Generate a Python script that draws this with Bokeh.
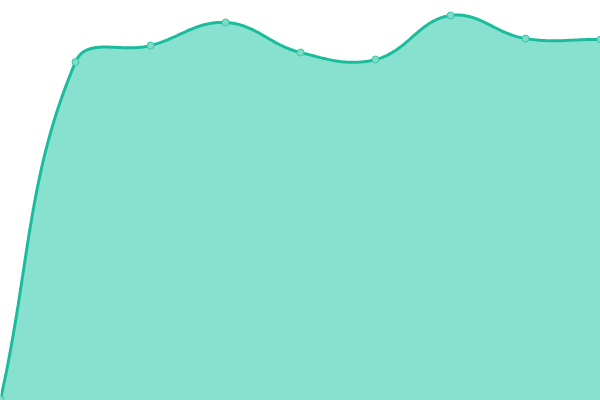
import numpy as np
from bokeh.plotting import figure
from bokeh.models import Range1d
from bokeh.embed import file_html
from bokeh.resources import INLINE

# data
labels = ["1", "2", "3", "4", "5", "6", "7", "8", "9"]
values = [1, 338.5, 355, 378, 348, 341, 385, 362, 361]

LINE = "#1abc9c"
FILL = "#88e0cf"
PT_FILL = "#7fdcc8"

W, H = 600, 400
x_start, x_end = 0, 8
y_start, y_end = 0, 400

p = figure(width=W, height=H, output_backend="svg", toolbar_location=None,
           x_range=Range1d(x_start, x_end), y_range=Range1d(y_start, y_end),
           min_border=0, border_fill_color="white", background_fill_color="white",
           outline_line_color=None)
p.axis.visible = False
p.grid.visible = False

xs = np.arange(len(values), dtype=float)
ys = np.array(values, dtype=float)

# Chart.js-style bezier smoothing (tension 0.4), computed in screen-proportional space
sx = W / (x_end - x_start)
sy = H / (y_end - y_start)
P = np.column_stack([xs * sx, ys * sy])
t = 0.4
n = len(P)
cp_prev = P.copy()
cp_next = P.copy()
for i in range(n):
    p0 = P[i - 1] if i > 0 else P[i]
    p2 = P[i + 1] if i < n - 1 else P[i]
    d01 = np.hypot(*(P[i] - p0))
    d12 = np.hypot(*(p2 - P[i]))
    tot = d01 + d12
    s01 = d01 / tot if tot else 0
    s12 = d12 / tot if tot else 0
    cp_prev[i] = P[i] - t * s01 * (p2 - p0)
    cp_next[i] = P[i] + t * s12 * (p2 - p0)

cx, cy = [], []
tt = np.linspace(0, 1, 60)
for i in range(n - 1):
    a, b, c, d = P[i], cp_next[i], cp_prev[i + 1], P[i + 1]
    pts = ((1 - tt)[:, None] ** 3 * a + 3 * (1 - tt)[:, None] ** 2 * tt[:, None] * b
           + 3 * (1 - tt)[:, None] * tt[:, None] ** 2 * c + tt[:, None] ** 3 * d)
    cx.extend(pts[:, 0] / sx)
    cy.extend(pts[:, 1] / sy)

p.varea(x=cx, y1=[0] * len(cx), y2=cy, fill_color=FILL, fill_alpha=1.0)
p.line(x=cx, y=cy, line_color=LINE, line_width=3)
p.scatter(x=xs, y=ys, size=7, fill_color=PT_FILL, line_color="#3cc7a8", line_width=1)

open("out.html", "w").write(file_html(p, INLINE))
